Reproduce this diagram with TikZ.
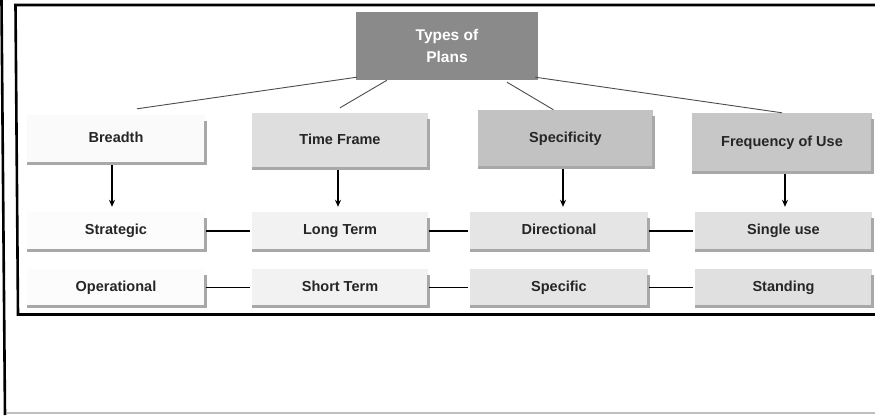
\documentclass[tikz,border=0pt]{standalone}
\usepackage{fontspec}
\setmainfont{Liberation Sans}
\usetikzlibrary{arrows.meta}
\definecolor{titlegray}{HTML}{8A8A8A}
\definecolor{shadegray}{HTML}{A8A8A8}
\begin{document}
\begin{tikzpicture}[x=1pt,y=-1pt,
  card/.style={inner sep=0pt, minimum width=#1, text=black!85,
    text height=10.5pt, text depth=3pt,
    font=\bfseries\fontsize{14.5}{17}\selectfont},
  card/.default=178pt,
  frameline/.style={line width=2.6pt, black},
  branch/.style={line width=0.9pt, black!70},
  downarrow/.style={line width=1.3pt, -{Stealth[length=7pt,width=6pt]},
    shorten <=2pt, shorten >=5pt},
  link/.style={line width=1.8pt, black, shorten <=1pt, shorten >=2pt},
  edge/.style={line width=2.6pt, shadegray}]
\useasboundingbox (0,0) rectangle (875,415);

% frame
\draw[frameline] (1.5,0) -- (5,415);
\draw[frameline] (875,5) -- (15.5,5) -- (18,314.5) -- (875,314.5);
\draw[line width=1.2pt, black!25] (7,413) -- (875,413);

% title
\node[inner sep=0pt, minimum width=182pt, minimum height=68pt, fill=titlegray,
  text=white, align=center, font=\bfseries\fontsize{15.5}{22}\selectfont]
  (title) at (447,46) {Types of\\Plans};

% headers
\node[card, minimum height=48pt, fill=black!2] (breadth) at (116,139) {Breadth};
\node[card=176pt, minimum height=55pt, fill=black!13] (time) at (340,140.5) {Time Frame};
\node[card=175pt, minimum height=57pt, fill=black!24] (spec) at (565.5,138.5) {Specificity};
\node[card=180pt, minimum height=59pt, fill=black!22] (freq) at (782,142.5) {Frequency of Use};

% second level
\node[card, minimum height=38pt, fill=black!1] (strat) at (116,231) {Strategic};
\node[card=176pt, minimum height=38pt, fill=black!5] (long) at (340,231) {Long Term};
\node[card, minimum height=38pt, fill=black!10] (dir) at (559,231) {Directional};
\node[card=177pt, minimum height=38pt, fill=black!12] (single) at (783.5,231) {Single use};

\node[card, minimum height=37pt, fill=black!1] (oper) at (116,287.5) {Operational};
\node[card=176pt, minimum height=37pt, fill=black!5] (short) at (340,287.5) {Short Term};
\node[card, minimum height=37pt, fill=black!10] (specif) at (559,287.5) {Specific};
\node[card=177pt, minimum height=37pt, fill=black!12] (stand) at (783.5,287.5) {Standing};

% shaded right and bottom edges of the cards
\foreach \n in {breadth,time,spec,freq,strat,long,dir,single,oper,short,specif,stand}
  \draw[edge] ([yshift=-6pt]\n.north east) -- (\n.south east) -- (\n.south west);

% branches from the title
\draw[branch] ([xshift=1pt,yshift=3pt]title.south west) -- ([xshift=21pt,yshift=6pt]breadth.north);
\draw[branch] ([xshift=-60pt]title.south) -- ([yshift=5pt]time.north);
\draw[branch] ([xshift=60pt,yshift=-2pt]title.south) -- ([xshift=-12pt]spec.north);
\draw[branch] ([xshift=-3pt,yshift=3pt]title.south east) -- (freq.north);

% arrows down
\draw[downarrow] ([xshift=-4pt]breadth.south) -- ([xshift=-4pt]strat.north);
\draw[downarrow] ([xshift=-2pt]time.south) -- ([xshift=-2pt]long.north);
\draw[downarrow] ([xshift=-2.5pt]spec.south) -- ([xshift=4pt]dir.north);
\draw[downarrow] ([xshift=3pt]freq.south) -- ([xshift=1.5pt]single.north);

% links between the cards of a row
\draw[link] (strat) -- (long);
\draw[link] (long) -- (dir);
\draw[link] (dir) -- (single);
\draw[link] (oper) -- (short);
\draw[link] (short) -- (specif);
\draw[link] (specif) -- (stand);
\end{tikzpicture}
\end{document}
